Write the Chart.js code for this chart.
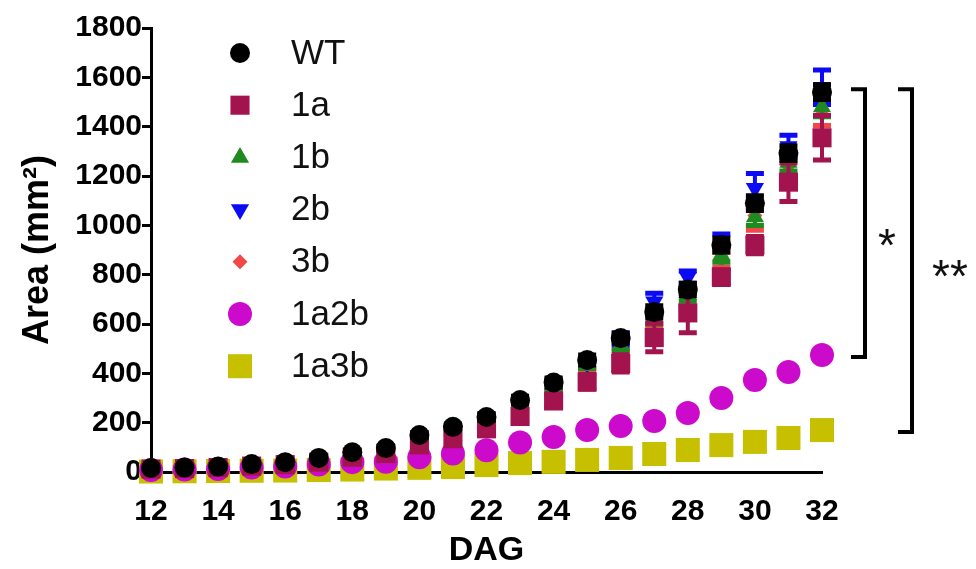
<!DOCTYPE html>
<html>
<head>
<meta charset="utf-8">
<script src="https://cdn.jsdelivr.net/npm/chart.js@4/dist/chart.umd.min.js"></script>
<style>
  html, body { margin: 0; padding: 0; background: #fff; }
  #wrap { width: 976px; height: 569px; }
</style>
</head>
<body>
<div id="wrap"><canvas id="c" width="976" height="569"></canvas></div>
<script>
// Days after germination
const days = [12, 13, 14, 15, 16, 17, 18, 19, 20, 21, 22, 23, 24, 25, 26, 27, 28, 29, 30, 31, 32];

// Mean area (mm²) per genotype
const wt     = [16, 18, 22, 32, 40, 57, 80, 97, 150, 183, 223, 292, 363, 454, 543, 649, 740, 920, 1090, 1293, 1540];
const g1a    = [12, 14, 18, 24, 30, 40, 60, 75, 110, 135, 175, 225, 288, 365, 440, 545, 645, 790, 920, 1175, 1355];
const g1b    = [15, 17, 21, 30, 38, 52, 75, 92, 140, 170, 210, 280, 350, 440, 515, 625, 720, 880, 1034, 1255, 1480];
const g2b    = [15, 17, 22, 32, 40, 55, 78, 95, 148, 180, 220, 290, 360, 440, 540, 690, 790, 940, 1150, 1320, 1560];
const g3b    = [14, 16, 20, 28, 36, 50, 70, 88, 135, 165, 200, 270, 345, 430, 520, 610, 700, 860, 1040, 1240, 1450];
const g1a2b  = [8, 10, 12, 18, 22, 30, 40, 42, 60, 75, 88, 120, 142, 170, 186, 207, 239, 300, 373, 405, 474];
const g1a3b  = [2, 3, 4, 5, 6, 8, 10, 14, 17, 20, 28, 36, 41, 49, 57, 73, 89, 109, 122, 138, 170];

// Standard errors
const wtErr    = [2, 2, 3, 3, 4, 5, 6, 8, 10, 12, 14, 15, 18, 20, 20, 25, 25, 28, 30, 30, 30];
const g1aErr   = [2, 2, 3, 3, 4, 5, 8, 10, 14, 16, 18, 22, 25, 30, 35, 58, 80, 30, 35, 78, 90];
const g1bErr   = [2, 2, 3, 3, 4, 5, 6, 8, 10, 12, 14, 15, 18, 20, 22, 25, 28, 30, 35, 35, 40];
const g2bErr   = [2, 2, 3, 3, 4, 5, 6, 8, 10, 12, 14, 15, 18, 20, 25, 35, 25, 25, 60, 45, 70];
const g3bErr   = [2, 2, 3, 3, 4, 5, 6, 8, 10, 12, 14, 15, 18, 20, 22, 25, 30, 30, 60, 40, 45];
const g1a2bErr = [1, 1, 2, 2, 2, 3, 4, 4, 5, 6, 6, 8, 8, 10, 10, 12, 12, 14, 15, 16, 18];
const g1a3bErr = [1, 1, 1, 1, 1, 2, 2, 2, 3, 3, 3, 4, 4, 5, 5, 6, 6, 7, 8, 8, 10];

// Axis ticks
const xTicks = { min: 12, max: 32, step: 2 };
const yTicks = { min: 0, max: 1800, step: 200 };

// Significance brackets: top and bottom series at the last day
const brackets = [
  { from: 'WT', to: '1a2b', text: '*',  dx: 43, textDx: 22, textDy: 25 },
  { from: 'WT', to: '1a3b', text: '**', dx: 90, textDx: 38, textDy: 19 }
];

const FONT = '"Liberation Sans", Arial, Helvetica, sans-serif';
Chart.defaults.font.family = FONT;

const toPoints = vals => days.map((d, i) => ({ x: d, y: vals[i] }));

function series(label, vals, errs, color, style, radius, rotation) {
  return {
    label,
    data: toPoints(vals),
    errors: errs,
    backgroundColor: color,
    borderColor: color,
    borderWidth: 0,
    pointStyle: style,
    pointRadius: radius,
    pointHoverRadius: radius,
    pointRotation: rotation || 0,
    showLine: false,
    clip: false
  };
}

const datasets = [
  series('WT',   wt,    wtErr,    '#000000', 'circle',   10),
  series('1a',   g1a,   g1aErr,   '#a3144f', 'rect',     13.5),
  series('1b',   g1b,   g1bErr,   '#1f8a1f', 'triangle', 10.5),
  series('2b',   g2b,   g2bErr,   '#0a0af5', 'triangle', 10.5, 180),
  series('3b',   g3b,   g3bErr,   '#f24848', 'rectRot',  7.5),
  series('1a2b', g1a2b, g1a2bErr, '#cc0acc', 'circle',   12),
  series('1a3b', g1a3b, g1a3bErr, '#c6c000', 'rect',     17)
];

// Error bars, drawn just before each series' markers
const errorBars = {
  id: 'errorBars',
  beforeDatasetDraw(chart, args) {
    const ds = chart.data.datasets[args.index];
    if (!ds.errors) return;
    const { ctx, scales: { x, y } } = chart;
    ctx.save();
    ctx.strokeStyle = ds.backgroundColor;
    ctx.lineWidth = 4;
    ds.data.forEach((p, i) => {
      const e = ds.errors[i];
      const px = x.getPixelForValue(p.x);
      const hi = y.getPixelForValue(p.y + e);
      const lo = y.getPixelForValue(p.y - e);
      ctx.beginPath();
      ctx.moveTo(px, hi); ctx.lineTo(px, lo);
      ctx.stroke();
      ctx.lineWidth = 5;
      ctx.beginPath();
      ctx.moveTo(px - 9, hi); ctx.lineTo(px + 9, hi);
      ctx.moveTo(px - 9, lo); ctx.lineTo(px + 9, lo);
      ctx.stroke();
      ctx.lineWidth = 4;
    });
    ctx.restore();
  }
};

function drawMarker(ctx, style, r, rot, cx, cy) {
  ctx.beginPath();
  if (style === 'circle') {
    ctx.arc(cx, cy, r, 0, Math.PI * 2);
  } else if (style === 'rect') {
    const s = r * Math.SQRT1_2;
    ctx.rect(cx - s, cy - s, 2 * s, 2 * s);
  } else if (style === 'rectRot') {
    ctx.moveTo(cx, cy - r); ctx.lineTo(cx + r, cy);
    ctx.lineTo(cx, cy + r); ctx.lineTo(cx - r, cy);
    ctx.closePath();
  } else if (style === 'triangle') {
    let a = (rot || 0) * Math.PI / 180;
    ctx.moveTo(cx + Math.sin(a) * r, cy - Math.cos(a) * r);
    a += Math.PI * 2 / 3;
    ctx.lineTo(cx + Math.sin(a) * r, cy - Math.cos(a) * r);
    a += Math.PI * 2 / 3;
    ctx.lineTo(cx + Math.sin(a) * r, cy - Math.cos(a) * r);
    ctx.closePath();
  }
  ctx.fill();
}

// Key in the upper-left of the plot
const keyPlugin = {
  id: 'key',
  afterDatasetsDraw(chart) {
    const { ctx } = chart;
    ctx.save();
    ctx.font = '35px ' + FONT;
    ctx.textBaseline = 'middle';
    ctx.textAlign = 'left';
    chart.data.datasets.forEach((ds, i) => {
      const cy = 53 + i * 52.2;
      ctx.fillStyle = ds.backgroundColor;
      drawMarker(ctx, ds.pointStyle, ds.pointRadius, ds.pointRotation, 240, cy);
      ctx.fillStyle = '#111';
      ctx.fillText(ds.label, 291, cy + 1);
    });
    ctx.restore();
  }
};

// Significance brackets on the right
const bracketPlugin = {
  id: 'brackets',
  afterDatasetsDraw(chart) {
    const { ctx, chartArea, scales: { y } } = chart;
    const last = days.length - 1;
    const byLabel = l => chart.data.datasets.find(d => d.label === l);
    ctx.save();
    ctx.strokeStyle = '#000';
    ctx.fillStyle = '#111';
    ctx.lineWidth = 4;
    ctx.lineCap = 'square';
    ctx.font = '46px ' + FONT;
    ctx.textAlign = 'center';
    ctx.textBaseline = 'middle';
    brackets.forEach(b => {
      const top = y.getPixelForValue(byLabel(b.from).data[last].y) - 3;
      const bot = y.getPixelForValue(byLabel(b.to).data[last].y) + 2;
      const bx = chartArea.right + b.dx;
      ctx.beginPath();
      ctx.moveTo(bx - 12, top); ctx.lineTo(bx, top);
      ctx.lineTo(bx, bot); ctx.lineTo(bx - 12, bot);
      ctx.stroke();
      ctx.fillText(b.text, bx + b.textDx, (top + bot) / 2 + b.textDy);
    });
    ctx.restore();
  }
};

new Chart(document.getElementById('c'), {
  type: 'scatter',
  data: { datasets },
  plugins: [errorBars, keyPlugin, bracketPlugin],
  options: {
    responsive: false,
    animation: false,
    devicePixelRatio: 1,
    layout: { padding: { top: 28, right: 154, bottom: 0, left: 0 } },
    plugins: { legend: { display: false }, tooltip: { enabled: false } },
    scales: {
      x: {
        type: 'linear',
        min: xTicks.min, max: xTicks.max,
        afterFit: s => { s.height = 97; },
        border: { display: true, color: '#000', width: 3 },
        grid: { display: false },
        ticks: { stepSize: xTicks.step, padding: 14, color: '#000', font: { size: 30, weight: 'bold' },
                 callback: v => String(v) },
        title: { display: true, text: 'DAG', color: '#000', font: { size: 34, weight: 'bold' }, padding: { top: 0, bottom: -2 } }
      },
      y: {
        min: yTicks.min, max: yTicks.max,
        afterFit: s => { s.width = 151; },
        border: { display: true, color: '#000', width: 3 },
        grid: { display: true, drawOnChartArea: false, drawTicks: true, tickLength: 9, color: '#000', lineWidth: 3 },
        ticks: { stepSize: yTicks.step, padding: 0, color: '#000', font: { size: 30, weight: 'bold' },
                 callback: v => String(v) },
        title: { display: true, text: 'Area (mm²)', color: '#000', font: { size: 36, weight: 'bold' }, padding: { top: 16, bottom: 0 } }
      }
    }
  }
});
</script>
</body>
</html>
